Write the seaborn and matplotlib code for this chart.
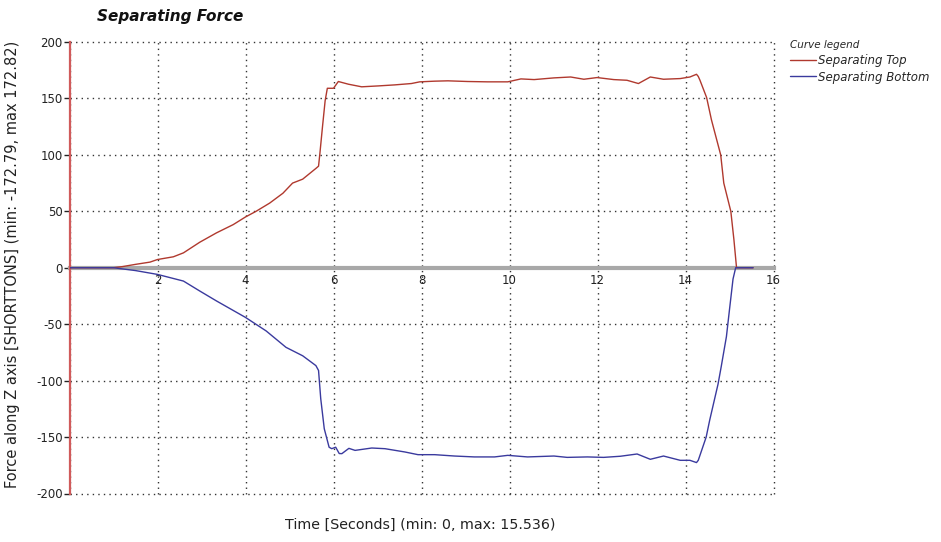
import numpy as np
import pandas as pd
import matplotlib
matplotlib.use("Agg")
import matplotlib.pyplot as plt
import seaborn as sns

# values
time_top = [0.0, 1.0, 1.2, 1.5, 1.83, 2.0, 2.36, 2.59, 2.96, 3.34, 3.72, 4.0, 4.24, 4.55,
            4.85, 5.07, 5.3, 5.6, 5.66, 5.69, 5.75, 5.81, 5.86, 6.0, 6.11, 6.34, 6.64,
            7.02, 7.39, 7.77, 7.96, 8.3, 8.6, 9.05, 9.5, 9.96, 10.26, 10.56, 11.01, 11.39,
            11.69, 11.99, 12.37, 12.67, 12.93, 13.2, 13.5, 13.88, 14.1, 14.25, 14.29, 14.33,
            14.48, 14.59, 14.8, 14.87, 15.03, 15.1, 15.16, 15.536]
force_top = [0.0, 0.0, 1.0, 3.0, 5.0, 7.3, 9.7, 13.2, 22.6, 30.9, 38.2, 45.0, 50.0, 57.3,
             66.0, 75.0, 78.5, 88.0, 90.0, 101.0, 125.0, 148.0, 159.0, 159.0, 165.0, 162.6, 160.3,
             161.1, 162.0, 163.2, 164.7, 165.3, 165.6, 165.0, 164.7, 164.7, 167.3, 166.7, 168.2, 169.0,
             167.0, 168.5, 166.7, 166.1, 163.2, 169.0, 167.0, 167.6, 169.0, 171.4, 169.5, 166.0,
             150.8, 131.0, 100.0, 75.0, 50.0, 25.0, 0.0, 0.0]

time_bottom = [0.0, 1.0, 1.2, 1.5, 2.0, 2.59, 2.96, 3.34, 4.0, 4.47, 4.92, 5.3, 5.6, 5.66,
               5.71, 5.79, 5.9, 5.96, 6.05, 6.13, 6.19, 6.35, 6.49, 6.87, 7.17, 7.62, 7.92,
               8.3, 8.75, 9.2, 9.66, 9.96, 10.41, 11.01, 11.31, 11.77, 12.14, 12.52, 12.9,
               13.2, 13.5, 13.88, 14.1, 14.25, 14.29, 14.47, 14.55, 14.74, 14.81, 14.93,
               15.0, 15.08, 15.14, 15.536]
force_bottom = [0.0, 0.0, -1.0, -2.5, -5.9, -11.8, -20.6, -29.4, -44.0, -56.0, -70.5, -78.0,
                -86.7, -91.0, -116.0, -142.6, -159.0, -160.3, -159.0, -164.6, -164.7, -160.0,
                -161.8, -159.7, -160.3, -163.2, -165.6, -165.6, -166.8, -167.6, -167.6, -166.2,
                -167.6, -166.8, -168.0, -167.6, -168.0, -167.0, -165.0, -169.7, -166.8, -170.6,
                -170.6, -172.6, -170.6, -150.0, -135.0, -103.0, -88.0, -61.0, -37.0, -10.0,
                0.0, 0.0]

series_names = ["Separating Top", "Separating Bottom"]
x_ticks = [0, 2, 4, 6, 8, 10, 12, 14, 16]
y_ticks = [-200, -150, -100, -50, 0, 50, 100, 150, 200]

df = pd.concat([
    pd.DataFrame({"Time": time_top, "Force": force_top, "Curve": series_names[0]}),
    pd.DataFrame({"Time": time_bottom, "Force": force_bottom, "Curve": series_names[1]}),
])

sns.set_style("white")
plt.rcParams["font.family"] = ["DejaVu Sans"]

fig = plt.figure(figsize=(9.41, 5.42), dpi=100)
ax = fig.add_axes([69.5 / 941, 1 - 493.5 / 542, (773.5 - 69.5) / 941, (493.5 - 42) / 542])

palette = {"Separating Top": "#b0392e", "Separating Bottom": "#3a3a9e"}
sns.lineplot(data=df, x="Time", y="Force", hue="Curve", palette=palette,
             estimator=None, sort=False, linewidth=1.0, ax=ax, zorder=3)

ax.set_xlim(0, 16)
ax.set_ylim(-200, 200)
ax.set_xticks(x_ticks)
ax.set_xticklabels(["" if t == 0 else str(t) for t in x_ticks])
ax.set_yticks(y_ticks)
ax.set_yticklabels([str(t) for t in y_ticks])

ax.grid(True, linestyle=(0, (1, 3)), color="#333333", linewidth=1.0, zorder=0)
ax.tick_params(which="major", grid_clip_on=False)

for s in ["top", "right"]:
    ax.spines[s].set_visible(False)
ax.spines["left"].set_color("#d05a5a")
ax.spines["left"].set_linewidth(1.6)
ax.spines["left"].set_zorder(2)
ax.spines["bottom"].set_position(("data", 0))
ax.spines["bottom"].set_color("#a8a8a8")
ax.spines["bottom"].set_linewidth(3)
ax.spines["bottom"].set_zorder(1)

ax.tick_params(axis="x", direction="inout", length=7, width=1, color="#222222",
               labelsize=8.5, pad=1, labelcolor="#222222")
ax.tick_params(axis="y", direction="out", length=4, width=1, color="#222222",
               labelsize=8.5, pad=1, labelcolor="#222222", left=True)

ax.set_xlabel("")
ax.set_ylabel("")
fig.text(420 / 941, 1 - 525 / 542, "Time [Seconds] (min: 0, max: 15.536)",
         ha="center", va="center", fontsize=10.3, color="#222222")
fig.text(13 / 941, 1 - 264 / 542, "Force along Z axis [SHORTTONS] (min: -172.79, max 172.82)",
         ha="center", va="center", rotation=90, fontsize=10.5, color="#222222")
fig.text(97 / 941, 1 - 17 / 542, "Separating Force", ha="left", va="center",
         fontsize=11, fontweight="bold", fontstyle="italic", color="#111111")

handles, labels = ax.get_legend_handles_labels()
leg = ax.legend(handles, labels, title="Curve legend", loc="upper left",
                bbox_to_anchor=(790 / 941, 1 - 40 / 542), bbox_transform=fig.transFigure,
                frameon=False, borderpad=0, borderaxespad=0, handlelength=2.2,
                handletextpad=0.2, labelspacing=0.32, alignment="left",
                prop={"size": 8.5, "style": "italic"},
                title_fontproperties={"size": 7.5, "style": "italic"})
for line in leg.get_lines():
    line.set_linewidth(1.0)

fig.savefig("out.png", dpi=100, facecolor="white")
